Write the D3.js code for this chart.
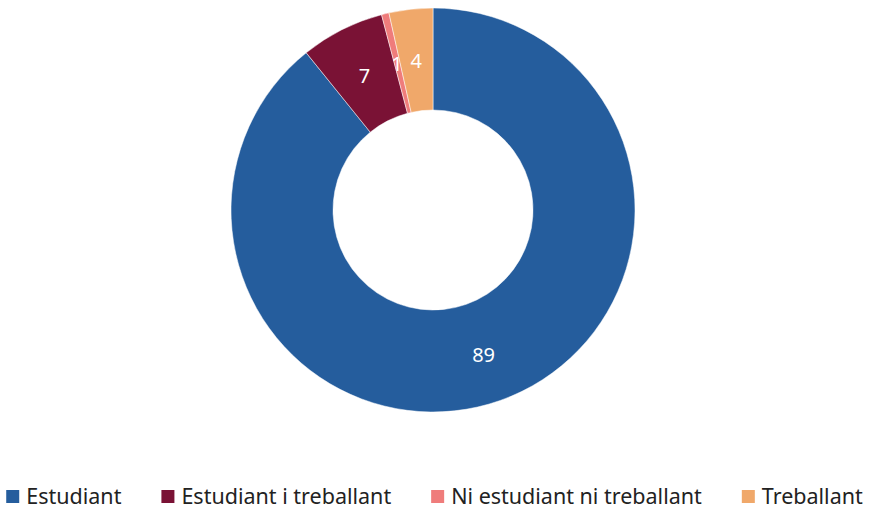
<!DOCTYPE html>
<html lang="ca">
<head>
<meta charset="utf-8">
<title>Situació</title>
<script src="https://d3js.org/d3.v7.min.js"></script>
<style>
  body { margin: 0; background: #fff; }
  text { font-family: "Noto Sans", Lato, sans-serif; }
</style>
</head>
<body>
<svg width="869" height="511"></svg>
<script>
// data
const categories = ["Estudiant", "Estudiant i treballant", "Ni estudiant ni treballant", "Treballant"];
const values = [89.2, 6.7, 0.6, 3.5];
const labels = ["89", "7", "1", "4"];
const colors = ["#255d9d", "#7a1235", "#ef7c7b", "#f0a86a"];

const svg = d3.select("svg");
const w = 869;
const cx = 433, cy = 210;
const outerR = 202, innerR = 100;

const color = d3.scaleOrdinal().domain(categories).range(colors);

const pie = d3.pie().sort(null).value(d => d.value);
const rows = categories.map((c, i) => ({ name: c, value: values[i], label: labels[i] }));
const arcs = pie(rows);

const arc = d3.arc().innerRadius(innerR).outerRadius(outerR);
const labelArc = d3.arc().innerRadius(152).outerRadius(152);

const g = svg.append("g").attr("transform", "translate(" + cx + "," + cy + ")");

g.selectAll("path")
  .data(arcs)
  .enter()
  .append("path")
  .attr("d", arc)
  .attr("fill", d => color(d.data.name))
  .attr("stroke", "#fff")
  .attr("stroke-width", 0.5);

g.selectAll("text")
  .data(arcs)
  .enter()
  .append("text")
  .attr("transform", d => "translate(" + labelArc.centroid(d) + ")")
  .attr("text-anchor", "middle")
  .attr("dy", "0.45em")
  .attr("fill", "#fff")
  .style("font-size", "20px")
  .text(d => d.data.label);

// legend
const legend = svg.append("g");
const items = legend.selectAll("g")
  .data(categories)
  .enter()
  .append("g");

items.append("rect")
  .attr("width", 13)
  .attr("height", 13)
  .attr("y", -13)
  .attr("fill", d => color(d));

items.append("text")
  .attr("x", 20)
  .attr("y", 1)
  .attr("fill", "#222")
  .style("font-size", "21.5px")
  .text(d => d);

let x = 0;
items.each(function () {
  const t = d3.select(this).select("text").node().getComputedTextLength();
  d3.select(this).attr("transform", "translate(" + x + ",0)");
  x += 20 + t + 40;
});
const total = x - 40;
legend.attr("transform", "translate(" + ((w - total) / 2) + ",503)");
</script>
</body>
</html>
